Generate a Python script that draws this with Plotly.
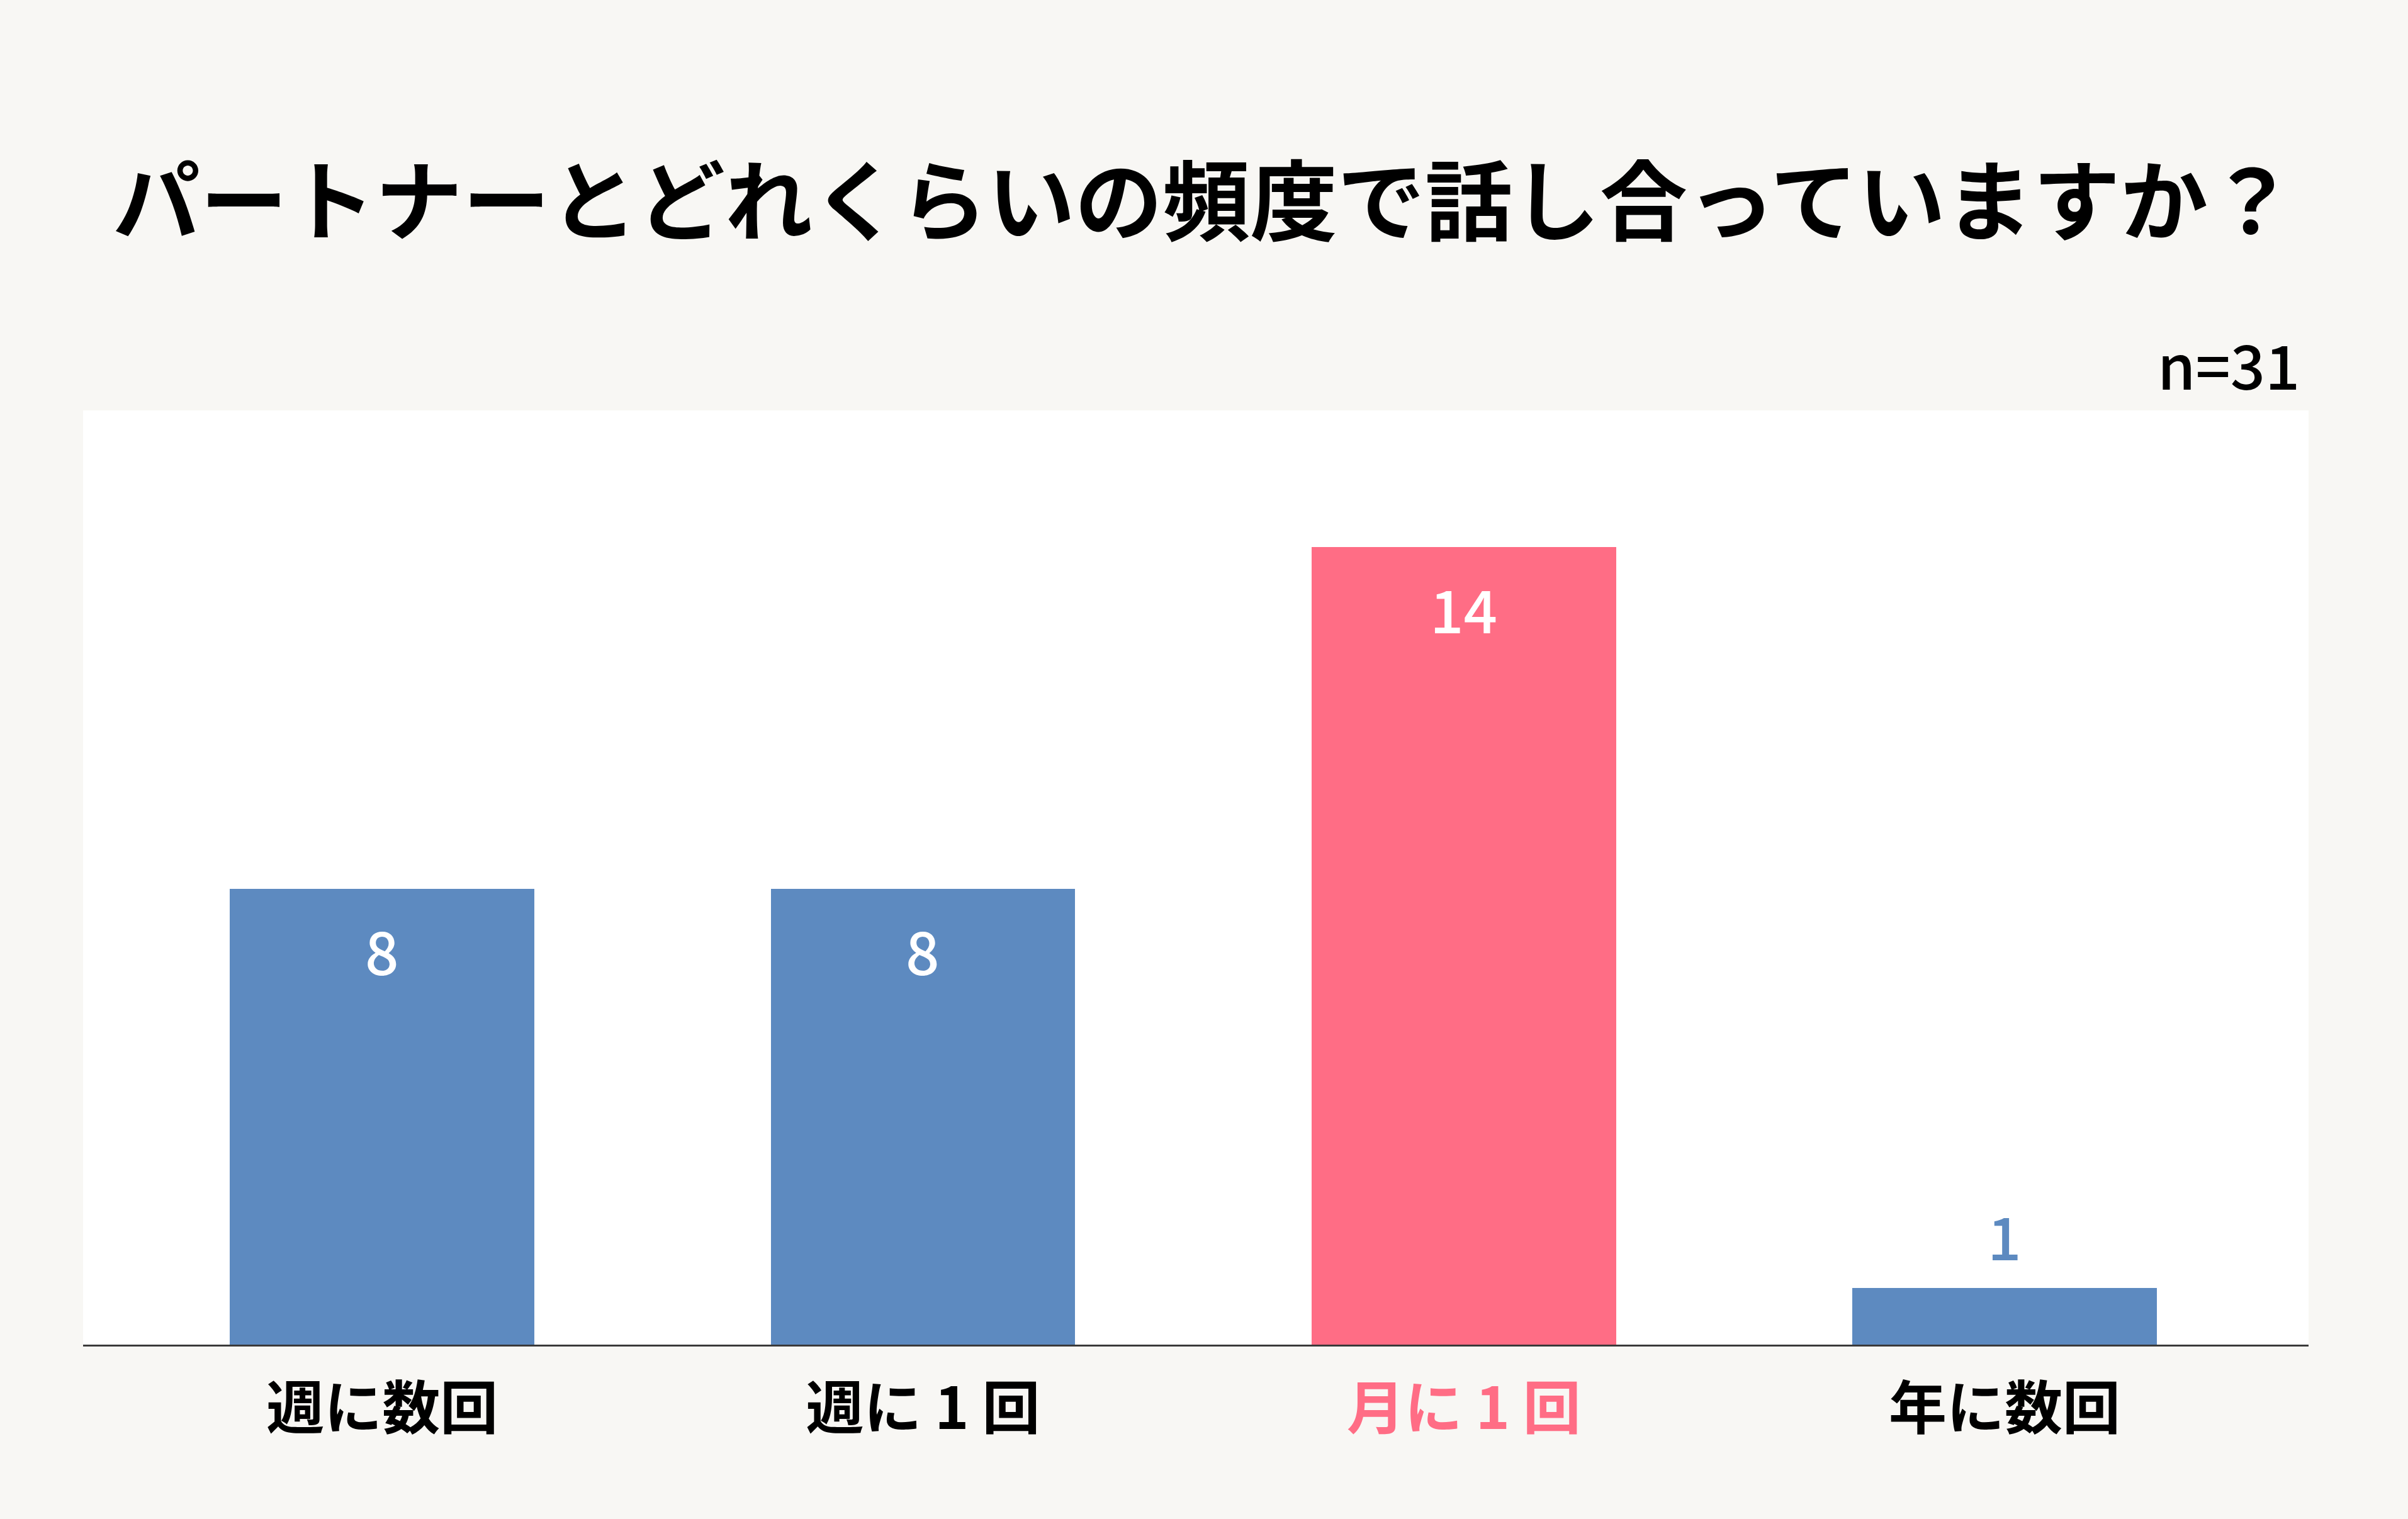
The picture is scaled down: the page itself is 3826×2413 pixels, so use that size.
import plotly.graph_objects as go

categories = ["週に数回", "週に 1 回", "月に 1 回", "年に数回"]
values = [8, 8, 14, 1]
highlight = "月に 1 回"
title_text = "パートナーとどれくらいの頻度で話し合っていますか？"
n_text = "n=31"

BLUE = "#5D8AC0"
PINK = "#FF6D85"
BG = "#F8F7F4"
FONT = "Noto Sans CJK JP"

colors = [PINK if c == highlight else BLUE for c in categories]
label_colors = [PINK if c == highlight else "black" for c in categories]

W, H = 3826, 2413
L, R, T, B = 132, 158, 652, 277

fig = go.Figure()
fig.add_trace(go.Bar(
    x=categories, y=values, marker=dict(color=colors, line=dict(width=0)),
    width=0.563, hoverinfo="skip",
))

annotations = []
for c, v, col in zip(categories, values, colors):
    if v >= 3:
        annotations.append(dict(x=c, y=v, xref="x", yref="y", text=str(v), showarrow=False,
                                yshift=-96, yanchor="middle",
                                font=dict(family=FONT, size=94, color="white", weight=500)))
    else:
        annotations.append(dict(x=c, y=v, xref="x", yref="y", text=str(v), showarrow=False,
                                yshift=85, yanchor="middle",
                                font=dict(family=FONT, size=94, color=col, weight=500)))

annotations.append(dict(x=(3656 - L) / (W - L - R), y=(H - B - 576) / (H - T - B),
                        xref="paper", yref="paper", xanchor="right", yanchor="middle",
                        text=n_text, showarrow=False,
                        font=dict(family=FONT, size=97, color="black", weight=500)))

tick_text = [f"<span style='color:{col}'>{c}</span>" for c, col in zip(categories, label_colors)]

fig.update_layout(
    width=W, height=H,
    margin=dict(l=L, r=R, t=T, b=B, pad=0),
    paper_bgcolor=BG, plot_bgcolor="white",
    showlegend=False,
    title=dict(text=f"<b>{title_text}</b>", x=0.5, xanchor="center",
               y=1 - 322 / H, yanchor="middle", yref="container",
               font=dict(family=FONT, size=139, color="black")),
    annotations=annotations,
    bargap=0,
    xaxis=dict(range=[-0.553, 3.562], tickmode="array", tickvals=categories, ticktext=tick_text,
               showline=True, linecolor="#3a3a3a", linewidth=3, showgrid=False, zeroline=False,
               ticks="outside", ticklen=21, tickcolor="rgba(0,0,0,0)",
               tickfont=dict(family=FONT, size=92, color="black", weight="bold")),
    yaxis=dict(range=[0, 16.4], showgrid=False, zeroline=False, showticklabels=False, ticks=""),
)

fig.write_html("out.html")
